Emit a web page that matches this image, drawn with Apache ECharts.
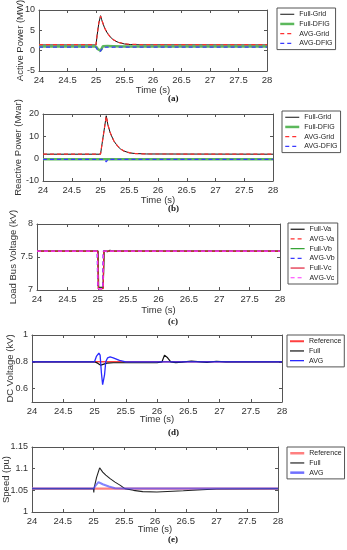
<!DOCTYPE html>
<html>
<head>
<meta charset="utf-8">
<script src="https://cdn.jsdelivr.net/npm/echarts@6/dist/echarts.min.js"></script>
<style>html,body{margin:0;padding:0;background:#fff}#c{width:347px;height:550px}</style>
</head>
<body>
<div id="c"></div>
<script>
// ---------- DATA ----------
const xTicksMin = 24, xTicksMax = 28, xTickStep = 0.5;
const panelCaptions = ['(a)', '(b)', '(c)', '(d)', '(e)'];
const yAxisNames = ['Active Power (MW)', 'Reactive Power (Mvar)', 'Load Bus Voltage (kV)', 'DC Voltage (kV)', 'Speed (pu)'];
const xAxisName = 'Time (s)';

// (a) Active power
const aFullGridT = [24, 25.0, 25.02, 25.05, 25.08, 25.1, 25.15, 25.2, 25.25, 25.3, 25.35, 25.4, 25.5, 25.6, 25.8, 28];
const aFullGridV = [1.4, 1.4, 3.8, 6.8, 8.6, 7.6, 5.6, 4.3, 3.4, 2.7, 2.3, 2.0, 1.65, 1.5, 1.42, 1.4];
const aAvgGridT = [24, 25.0, 25.02, 25.05, 25.08, 25.1, 25.15, 25.2, 25.25, 25.3, 25.35, 25.4, 25.5, 25.6, 25.8, 28];
const aAvgGridV = [1.5, 1.5, 3.9, 6.9, 8.5, 7.6, 5.6, 4.3, 3.4, 2.75, 2.35, 2.05, 1.7, 1.55, 1.5, 1.5];
const aFullDfigT = [24, 25.0, 25.04, 25.08, 25.12, 25.2, 25.3, 25.5, 28];
const aFullDfigV = [1.0, 1.0, 0.3, 0.0, 1.1, 1.15, 1.1, 1.0, 1.0];
const aAvgDfigT = [24, 25.0, 25.03, 25.07, 25.1, 25.13, 25.16, 25.2, 25.25, 25.3, 28];
const aAvgDfigV = [0.85, 0.85, 0.1, -0.25, 0.0, 0.8, 0.55, 0.9, 0.75, 0.85, 0.85];

// (b) Reactive power
const bFullGridT = [24, 25.0, 25.1, 25.13, 25.17, 25.23, 25.3, 25.35, 25.4, 25.5, 25.6, 25.8, 28];
const bFullGridV = [2.0, 2.0, 19.2, 15.0, 11.5, 8.0, 5.5, 4.3, 3.5, 2.6, 2.3, 2.1, 2.0];
const bAvgGridT = [24, 25.0, 25.1, 25.13, 25.17, 25.23, 25.3, 25.35, 25.4, 25.5, 25.6, 25.8, 28];
const bAvgGridV = [2.0, 2.0, 19.0, 15.1, 11.6, 8.1, 5.6, 4.4, 3.5, 2.7, 2.3, 2.1, 2.0];
const bFullDfigT = [24, 25.07, 25.1, 25.13, 28];
const bFullDfigV = [-0.3, -0.3, -0.8, -0.3, -0.3];
const bAvgDfigT = [24, 25.07, 25.1, 25.13, 28];
const bAvgDfigV = [-0.3, -0.3, -1.4, -0.3, -0.3];

// (c) Load bus voltage
const cFullVaT = [24, 25.005, 25.015, 25.09, 25.105, 25.13, 25.16, 25.2, 25.25, 28];
const cFullVaV = [7.59, 7.59, 7.04, 7.04, 7.59, 7.61, 7.58, 7.6, 7.59, 7.59];
const cAvgVaT = [24, 24.995, 25.005, 25.085, 25.095, 28];
const cAvgVaV = [7.59, 7.59, 7.02, 7.02, 7.59, 7.59];
const cFullVbT = [24, 25.0, 25.01, 25.09, 25.1, 25.13, 28];
const cFullVbV = [7.59, 7.59, 7.03, 7.03, 7.59, 7.6, 7.59];
const cAvgVbT = [24, 24.99, 25.0, 25.08, 25.09, 28];
const cAvgVbV = [7.59, 7.59, 7.02, 7.02, 7.59, 7.59];
const cFullVcT = [24, 25.0, 25.01, 25.09, 25.1, 28];
const cFullVcV = [7.59, 7.59, 7.02, 7.02, 7.59, 7.59];
const cAvgVcT = [24, 24.995, 25.005, 25.085, 25.095, 28];
const cAvgVcV = [7.59, 7.59, 7.02, 7.02, 7.59, 7.59];

// (d) DC voltage
const dRefT = [24, 28];
const dRefV = [0.8, 0.8];
const dFullT = [24, 25.0, 25.05, 25.1, 25.12, 25.2, 25.3, 25.5, 26.0, 26.08, 26.12, 26.17, 26.22, 26.3, 26.4, 26.55, 26.7, 26.8, 26.95, 27.1, 28];
const dFullV = [0.8, 0.8, 0.79, 0.775, 0.78, 0.79, 0.793, 0.793, 0.793, 0.8, 0.85, 0.83, 0.8, 0.794, 0.797, 0.806, 0.8, 0.796, 0.804, 0.8, 0.8];
const dAvgT = [24, 25.0, 25.03, 25.07, 25.09, 25.11, 25.13, 25.14, 25.16, 25.18, 25.21, 25.25, 25.3, 25.4, 25.5, 28];
const dAvgV = [0.8, 0.8, 0.84, 0.865, 0.85, 0.72, 0.63, 0.62, 0.7, 0.8, 0.83, 0.837, 0.83, 0.81, 0.8, 0.8];

// (e) Speed
const eRefT = [24, 28];
const eRefV = [1.054, 1.054];
const eFullT = [24, 25.0, 25.005, 25.01, 25.05, 25.1, 25.15, 25.2, 25.27, 25.35, 25.43, 25.51, 25.65, 25.8, 26.03, 26.46, 27.0, 28];
const eFullV = [1.054, 1.054, 1.045, 1.055, 1.08, 1.102, 1.092, 1.085, 1.077, 1.069, 1.062, 1.054, 1.05, 1.047, 1.046, 1.049, 1.053, 1.054];
const eAvgT = [24, 25.0, 25.03, 25.08, 25.1, 25.15, 25.25, 25.35, 25.5, 28];
const eAvgV = [1.054, 1.054, 1.06, 1.069, 1.068, 1.064, 1.059, 1.055, 1.054, 1.054];

// ---------- CHART ----------
const FONT = '"Liberation Sans", Arial, sans-serif';
const gridBoxes = [
  {left: 39, top: 10, width: 228, height: 61},
  {left: 43, top: 114, width: 230, height: 67},
  {left: 37, top: 224, width: 243, height: 66},
  {left: 32, top: 335, width: 250, height: 67},
  {left: 32, top: 447, width: 246, height: 65}
];
const grids = gridBoxes.map(g => Object.assign({containLabel: false, outerBoundsMode: 'none'}, g));
const yCfg = [
  {min: -5, max: 10, interval: 5, gap: 13.5},
  {min: -10, max: 20, interval: 10, gap: 20},
  {min: 7, max: 8, interval: 0.5, gap: 18.5},
  {min: 0.5, max: 1, interval: 0.1, gap: 16.5},
  {min: 1, max: 1.15, interval: 0.05, gap: 21}
];
yCfg[3].custom = [0.6, 0.8, 1];
const xNameGaps = [14, 14, 15, 12, 12.5];
const captionY = [99, 209, 322, 433, 540];
const legendPos = [
  {left: 277, top: 8}, {left: 282, top: 111}, {left: 288, top: 223}, {left: 287, top: 335}, {left: 287, top: 447}
];

const axisLineColor = '#555';
const xAxes = [], yAxes = [];
grids.forEach((g, i) => {
  xAxes.push({
    type: 'value', gridIndex: i, min: xTicksMin, max: xTicksMax, interval: xTickStep, position: 'bottom',
    name: xAxisName, nameLocation: 'middle', nameGap: xNameGaps[i], nameMoveOverlap: false,
    nameTextStyle: {fontFamily: FONT, fontSize: 9.5, color: '#333'},
    axisLine: {show: true, onZero: false, lineStyle: {color: axisLineColor}},
    axisTick: {show: true, inside: true, length: 3, lineStyle: {color: axisLineColor}},
    axisLabel: {margin: 4, fontFamily: FONT, fontSize: 9.5, color: '#333'},
    splitLine: {show: false}
  });
  xAxes.push({
    type: 'value', gridIndex: i, min: xTicksMin, max: xTicksMax, interval: xTickStep, position: 'top',
    axisLine: {show: true, onZero: false, lineStyle: {color: axisLineColor}},
    axisTick: {show: true, inside: true, length: 3, lineStyle: {color: axisLineColor}},
    axisLabel: {show: false}, splitLine: {show: false}
  });
  const y = yCfg[i];
  const left = {
    type: 'value', gridIndex: i, min: y.min, max: y.max, interval: y.interval, position: 'left',
    name: yAxisNames[i], nameLocation: 'middle', nameGap: y.gap, nameRotate: 90, nameMoveOverlap: false,
    nameTextStyle: {fontFamily: FONT, fontSize: 9.5, color: '#333'},
    axisLine: {show: true, onZero: false, lineStyle: {color: axisLineColor}},
    axisTick: {show: true, inside: true, length: 3, lineStyle: {color: axisLineColor}},
    axisLabel: {margin: 4, fontFamily: FONT, fontSize: 9, color: '#333'},
    splitLine: {show: false}
  };
  const right = {
    type: 'value', gridIndex: i, min: y.min, max: y.max, interval: y.interval, position: 'right',
    axisLine: {show: true, onZero: false, lineStyle: {color: axisLineColor}},
    axisTick: {show: true, inside: true, length: 3, lineStyle: {color: axisLineColor}},
    axisLabel: {show: false}, splitLine: {show: false}
  };
  if (y.custom) {
    left.axisLabel.customValues = y.custom;
    left.axisTick.customValues = y.custom;
    right.axisTick.customValues = y.custom;
  }
  yAxes.push(left, right);
});

function zip(t, v) { return t.map((x, k) => [x, v[k]]); }
function line(name, gi, t, v, color, width, type, opacity) {
  return {
    type: 'line', name: name, xAxisIndex: gi * 2, yAxisIndex: gi * 2, data: zip(t, v),
    symbol: 'none', showSymbol: false, animation: false, silent: true, clip: true,
    lineStyle: {color: color, width: width, type: type || 'solid', opacity: opacity == null ? 1 : opacity},
    itemStyle: {color: color}
  };
}
const DASH = [4, 3];
const series = [
  line('Full-Grid', 0, aFullGridT, aFullGridV, '#111', 1),
  line('Full-DFIG', 0, aFullDfigT, aFullDfigV, '#5cb85c', 2.5),
  line('AVG-Grid', 0, aAvgGridT, aAvgGridV, '#ff3030', 1.2, DASH),
  line('AVG-DFIG', 0, aAvgDfigT, aAvgDfigV, '#3a3aff', 1.2, DASH),

  line('Full-Grid', 1, bFullGridT, bFullGridV, '#111', 1),
  line('Full-DFIG', 1, bFullDfigT, bFullDfigV, '#5cb85c', 2.5),
  line('AVG-Grid', 1, bAvgGridT, bAvgGridV, '#ff3030', 1.2, DASH),
  line('AVG-DFIG', 1, bAvgDfigT, bAvgDfigV, '#3a3aff', 1.2, DASH),

  line('Full-Va', 2, cFullVaT, cFullVaV, '#111', 1.2),
  line('AVG-Va', 2, cAvgVaT, cAvgVaV, '#ff3030', 1.2, DASH),
  line('Full-Vb', 2, cFullVbT, cFullVbV, '#2ca02c', 1.2),
  line('AVG-Vb', 2, cAvgVbT, cAvgVbV, '#3a3aff', 1.2, DASH),
  line('Full-Vc', 2, cFullVcT, cFullVcV, '#e0203a', 1.2),
  line('AVG-Vc', 2, cAvgVcT, cAvgVcV, '#ff33ff', 1.2, DASH),

  line('Reference', 3, dRefT, dRefV, '#ff4040', 1.6),
  line('Full', 3, dFullT, dFullV, '#111', 1.2),
  line('AVG', 3, dAvgT, dAvgV, '#2a2aff', 1.3),

  line('Reference', 4, eRefT, eRefV, '#ff8080', 2.2),
  line('Full', 4, eFullT, eFullV, '#222', 1.1),
  line('AVG', 4, eAvgT, eAvgV, '#5050ff', 2, 'solid', 0.7)
];

const HIDDEN_SYMBOL = {color: 'rgba(0,0,0,0)', borderWidth: 0, opacity: 0};
function legendItem(name, color, width, type) {
  return {name: name, lineStyle: {color: color, width: width, type: type || 'solid', opacity: 1}, itemStyle: HIDDEN_SYMBOL};
}
const legendData = [
  [legendItem('Full-Grid', '#111', 1), legendItem('Full-DFIG', '#5cb85c', 2.5), legendItem('AVG-Grid', '#ff3030', 1.2, DASH), legendItem('AVG-DFIG', '#3a3aff', 1.2, DASH)],
  [legendItem('Full-Grid', '#111', 1), legendItem('Full-DFIG', '#5cb85c', 2.5), legendItem('AVG-Grid', '#ff3030', 1.2, DASH), legendItem('AVG-DFIG', '#3a3aff', 1.2, DASH)],
  [legendItem('Full-Va', '#111', 1.2), legendItem('AVG-Va', '#ff3030', 1.2, DASH), legendItem('Full-Vb', '#2ca02c', 1.2), legendItem('AVG-Vb', '#3a3aff', 1.2, DASH), legendItem('Full-Vc', '#e0203a', 1.2), legendItem('AVG-Vc', '#ff33ff', 1.2, DASH)],
  [legendItem('Reference', '#ff4040', 2), legendItem('Full', '#111', 1.2), legendItem('AVG', '#2a2aff', 1.3)],
  [legendItem('Reference', '#ff8080', 2.5), legendItem('Full', '#222', 1.2), legendItem('AVG', '#7070ff', 2.5)]
];
const legends = legendData.map((d, i) => ({
  data: d, orient: 'vertical', left: legendPos[i].left, top: legendPos[i].top,
  selectedMode: false, borderColor: '#555', borderWidth: 1, backgroundColor: '#fff',
  padding: [2, 3, 2, 2], itemWidth: 14, itemHeight: 8, itemGap: 1.2,
  itemStyle: HIDDEN_SYMBOL,
  textStyle: {fontFamily: FONT, fontSize: 7, lineHeight: 8.5, color: '#222'}
}));

const captions = panelCaptions.map((c, i) => ({
  type: 'text', left: 175 - 7, top: captionY[i] - 5,
  style: {text: c, font: 'bold 9px "Liberation Serif", "Times New Roman", serif', fill: '#111'}
}));

const chart = echarts.init(document.getElementById('c'), null, {renderer: 'canvas'});
chart.setOption({
  animation: false,
  backgroundColor: '#fff',
  grid: grids,
  xAxis: xAxes,
  yAxis: yAxes,
  legend: legends,
  series: series,
  graphic: captions
});
</script>
</body>
</html>
